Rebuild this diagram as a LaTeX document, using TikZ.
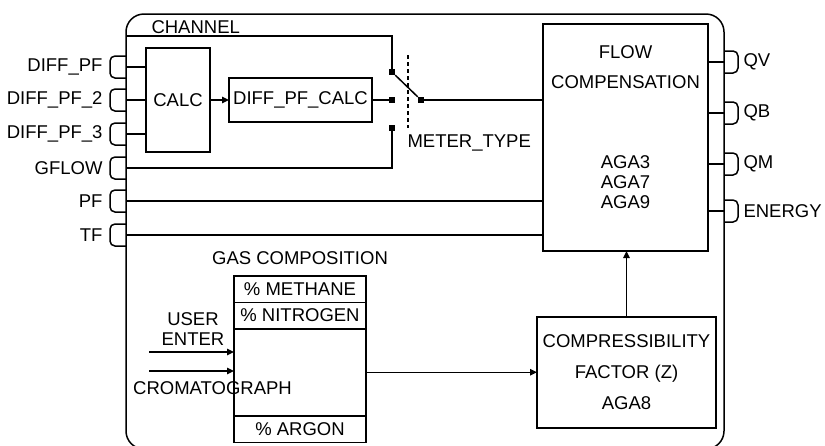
\documentclass[tikz,border=0pt]{standalone}
\usepackage{fontspec}
\setmainfont{Liberation Sans}
\usetikzlibrary{arrows.meta, positioning}

\begin{document}
\begin{tikzpicture}[
    x=1pt, y=-1pt,
    every node/.style={font=\fontsize{18.5}{20}\selectfont},
    block/.style={draw, line width=1.5pt, inner sep=0pt, outer sep=0pt},
    cell/.style={block, minimum width=132pt},
    contact/.style={fill, minimum size=6pt, inner sep=0pt},
    port/.style={line width=1.5pt, rounded corners=5pt},
    wire/.style={line width=1.5pt},
    arrow/.style={-{Triangle[length=7pt,width=6.5pt]}, line width=1.5pt}
  ]
    \clip (0,0) rectangle (825,445);

    \draw[wire, rounded corners=18pt] (126,14) rectangle (724,449);
    \node[anchor=west] (chan) at (148,27) {CHANNEL};

    \foreach \y/\n/\txt in {67/dpf/DIFF\_PF, 100/dpftwo/DIFF\_PF\_2, 134/dpfthree/DIFF\_PF\_3,
                            168/gflow/GFLOW, 201/pf/PF, 235/tf/TF} {
      \draw[port] (126,\y-11) -- (110,\y-11) -- (110,\y+11) -- (126,\y+11);
      \coordinate (\n) at (126,\y);
      \node[anchor=east] (\n-lbl) at (106,\y) {\txt};
    }
    \foreach \y/\n/\txt in {62/qv/QV, 113/qb/QB, 164/qm/QM, 211/energy/ENERGY} {
      \draw[port] (724,\y-11) -- (738,\y-11) -- (738,\y+11) -- (724,\y+11);
      \coordinate (\n) at (724,\y);
      \node[anchor=west] (\n-lbl) at (740,\y) {\txt};
    }

    \node[block, minimum width=64pt, minimum height=104pt] (calc) at (178,100) {CALC};
    \node[block, minimum width=143pt, minimum height=44pt] (pfcalc) at (300.5,100) {DIFF\_PF\_CALC};

    \node[block, minimum width=165pt, minimum height=227pt] (flow) at (625.5,137.5) {};
    \node[align=center] (flowtxt) at (625.5,67) {FLOW\\[10pt]COMPENSATION};
    \node[align=center] (agatxt) at (625.5,182) {AGA3\\AGA7\\AGA9};

    \node[block, minimum width=179pt, minimum height=111pt, align=center,
          font=\fontsize{18.5}{31}\selectfont] (comp) at (626.5,372.5) {COMPRESSIBILITY\\FACTOR (Z)\\AGA8};

    \node (gaslbl) at (300,258) {GAS COMPOSITION};
    \node[cell, minimum height=26.5pt] (methane) at (300,289) {\% METHANE};
    \node[cell, minimum height=26.5pt, below=0pt of methane] (nitrogen) {\% NITROGEN};
    \node[cell, minimum height=87pt, below=0pt of nitrogen] (gasbody) {};
    \node[cell, minimum height=26.5pt, below=0pt of gasbody] (argon) {\% ARGON};

    \node[align=center] (userlbl) at (193,329) {USER\\ENTER};
    \node (cromlbl) at (212.5,388) {CROMATOGRAPH};
    \coordinate (userin) at (149,352);
    \coordinate (cromin) at (149,371);

    \node[contact] (swtop) at (392,72) {};
    \node[contact] (swmid) at (392,100) {};
    \node[contact] (swbot) at (392,128) {};
    \node[contact] (swcom) at (421,100) {};
    \coordinate (chtop) at (126,36);
    \coordinate (meterhi) at (408,55);
    \coordinate (meterlo) at (408,128);
    \node[anchor=west] (meterlbl) at (404,143) {METER\_TYPE};

    \draw[wire] (dpf) -- (dpf -| calc.west);
    \draw[wire] (dpftwo) -- (dpftwo -| calc.west);
    \draw[wire] (dpfthree) -- (dpfthree -| calc.west);
    \draw[arrow] (calc.east) -- (pfcalc.west);
    \draw[wire] (pfcalc.east) -- (swmid);
    \draw[wire] (chtop) -| (swtop);
    \draw[wire] (gflow) -| (swbot);
    \draw[wire] (swtop) -- (swcom);
    \draw[wire] (swcom) -- (swcom -| flow.west);
    \draw[wire, dash pattern=on 4pt off 3pt] (meterhi) -- (meterlo);
    \draw[wire] (pf) -- (pf -| flow.west);
    \draw[wire] (tf) -- (tf -| flow.west);
    \foreach \n in {qv, qb, qm, energy}
      \draw[wire] (flow.east |- \n) -- (\n);

    \draw[arrow] (userin) -- (userin -| gasbody.west);
    \draw[arrow] (cromin) -- (cromin -| gasbody.west);
    \draw[arrow] (gasbody.east) -- (gasbody.east -| comp.west);
    \draw[arrow] (comp.north) -- (comp.north |- flow.south);

  \end{tikzpicture}
\end{document}
